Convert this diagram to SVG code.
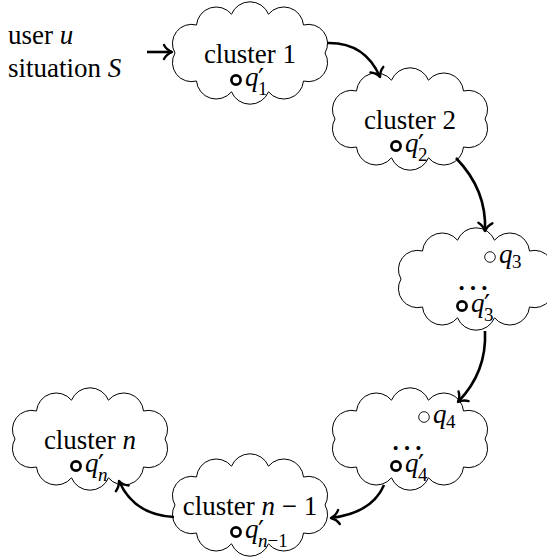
<svg xmlns="http://www.w3.org/2000/svg" xmlns:xlink="http://www.w3.org/1999/xlink" width="547" height="559" viewBox="0 0 547 559">
  <style>
    text { font-family: "Liberation Serif", "Times New Roman", serif; font-size: 27px; fill: #000; }
    .i { font-style: italic; }
    .r { font-style: normal; }
    .s { font-size: 19px; }
    .p { font-family: "DejaVu Sans", sans-serif; font-size: 27px; font-style: normal; }
    .mid { text-anchor: middle; }
    .dots { font-size: 34px; text-anchor: middle; }
    .cloud { fill: #fff; stroke: #000; stroke-width: 1; }
    .state { fill: none; stroke: #000; stroke-width: 2.7; }
    .aux { fill: none; stroke: #000; stroke-width: 0.9; }
    .edge { fill: none; stroke: #000; stroke-width: 2.6; marker-end: url(#to); }
  </style>
  <defs>
    <!-- ten-puff cloud centred on the origin -->
    <path id="cloud" class="cloud" d="M75,0 A19.1,19.1 0 0 0 53.5,-28 A19.8,19.8 0 0 0 18.5,-38.8 A20,20 0 0 0 -18.5,-38.8 A19.8,19.8 0 0 0 -53.5,-28 A19.1,19.1 0 0 0 -75,0 A19.1,19.1 0 0 0 -53.5,28 A19.8,19.8 0 0 0 -18.5,38.8 A20,20 0 0 0 18.5,38.8 A19.8,19.8 0 0 0 53.5,28 A19.1,19.1 0 0 0 75,0 Z"/>
    <marker id="to" markerUnits="userSpaceOnUse" markerWidth="18" markerHeight="18" viewBox="-10 -9 12 18" refX="0" refY="0" orient="auto" overflow="visible">
      <path d="M-8,-7 C-6,-3.2 -2.2,-0.9 0,0 C-2.2,0.9 -6,3.2 -8,7" fill="none" stroke="#000" stroke-width="2.4" stroke-linecap="round" stroke-linejoin="round"/>
    </marker>
  </defs>

  <!-- input label -->
  <g id="input">
    <text x="8" y="44">user <tspan class="i">u</tspan></text>
    <text x="8" y="77">situation <tspan class="i">S</tspan></text>
  </g>

  <g id="cluster1">
    <use xlink:href="#cloud" x="250" y="53"/>
    <text class="mid" x="250" y="63">cluster 1</text>
    <circle class="state" cx="236" cy="80" r="4.6"/>
    <text class="i" x="245" y="86">q<tspan class="p" x="258" y="88">′</tspan><tspan class="s r" x="258" y="95">1</tspan></text>
  </g>

  <g id="cluster2">
    <use xlink:href="#cloud" x="410" y="119"/>
    <text class="mid" x="410" y="129">cluster 2</text>
    <circle class="state" cx="396" cy="146" r="4.6"/>
    <text class="i" x="405" y="152">q<tspan class="p" x="418" y="154">′</tspan><tspan class="s r" x="418" y="161">2</tspan></text>
  </g>

  <g id="cluster3">
    <use xlink:href="#cloud" x="476" y="279"/>
    <circle class="aux" cx="490" cy="257" r="5.3"/>
    <text class="i" x="499" y="263">q<tspan class="s r" x="512" y="268">3</tspan></text>
    <text class="dots" x="473" y="290">…</text>
    <circle class="state" cx="462" cy="306" r="4.6"/>
    <text class="i" x="471" y="312">q<tspan class="p" x="484" y="314">′</tspan><tspan class="s r" x="484" y="321">3</tspan></text>
  </g>

  <g id="cluster4">
    <use xlink:href="#cloud" x="410" y="439"/>
    <circle class="aux" cx="424" cy="417" r="5.3"/>
    <text class="i" x="433" y="423">q<tspan class="s r" x="446" y="428">4</tspan></text>
    <text class="dots" x="407" y="450">…</text>
    <circle class="state" cx="396" cy="466" r="4.6"/>
    <text class="i" x="405" y="472">q<tspan class="p" x="418" y="474">′</tspan><tspan class="s r" x="418" y="481">4</tspan></text>
  </g>

  <g id="cluster-n-1">
    <use xlink:href="#cloud" x="250" y="505"/>
    <text class="mid" x="250" y="515">cluster <tspan class="i">n</tspan> − 1</text>
    <circle class="state" cx="236" cy="532" r="4.6"/>
    <text class="i" x="245" y="538">q<tspan class="p" x="258" y="540">′</tspan><tspan class="s" x="258" y="547">n</tspan><tspan class="s r">−1</tspan></text>
  </g>

  <g id="cluster-n">
    <use xlink:href="#cloud" x="90" y="439"/>
    <text class="mid" x="90" y="449">cluster <tspan class="i">n</tspan></text>
    <circle class="state" cx="76" cy="466" r="4.6"/>
    <text class="i" x="85" y="472">q<tspan class="p" x="98" y="474">′</tspan><tspan class="s" x="98" y="481">n</tspan></text>
  </g>

  <g id="edges">
    <path class="edge" d="M147,52 H172"/>
    <path class="edge" d="M327,43 Q365,42 380,77"/>
    <path class="edge" d="M456,158 Q487,190 485,231"/>
    <path class="edge" d="M485,331 Q487,372 458,402"/>
    <path class="edge" d="M384,485 Q372,513 331,518"/>
    <path class="edge" d="M174,517 Q134,515 119,481"/>
  </g>
</svg>
